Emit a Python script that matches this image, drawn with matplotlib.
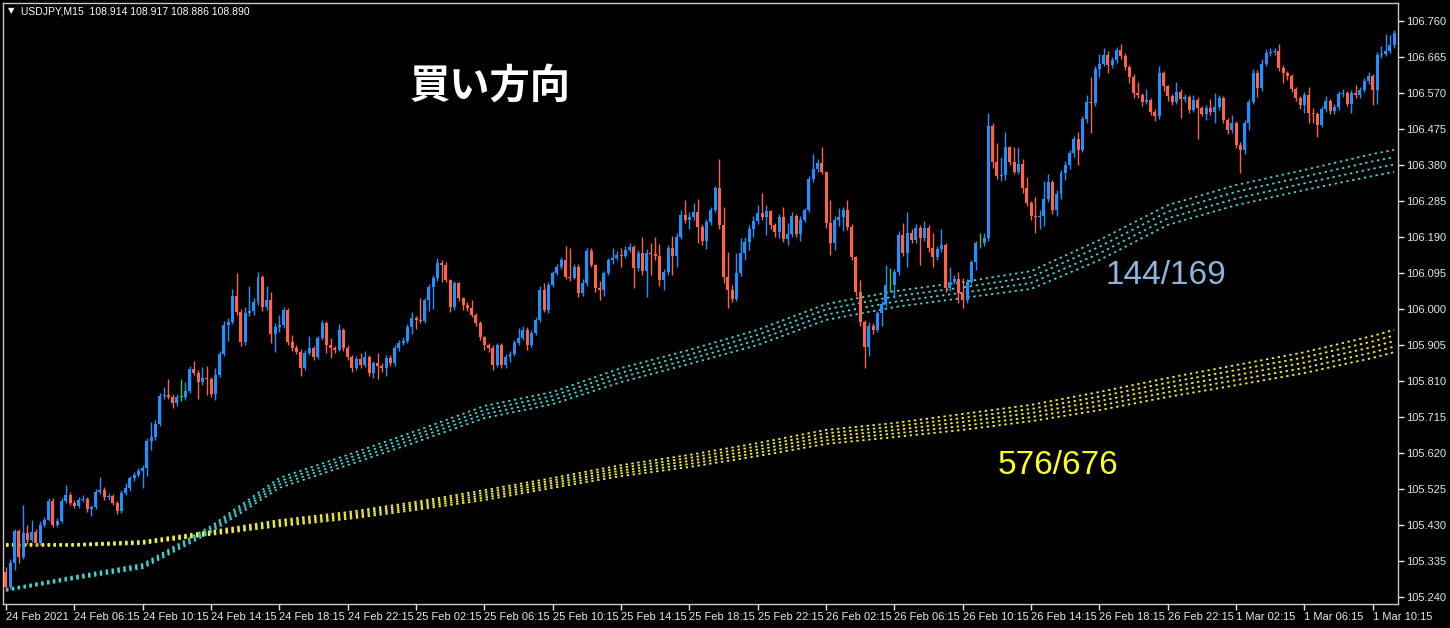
import numpy as np
import matplotlib
matplotlib.use("Agg")
import matplotlib.pyplot as plt

# ---------------- data ----------------
first_open = 105.306
closes = [105.266,105.330,105.414,105.346,105.409,105.390,105.411,105.382,105.430,105.443,
105.493,105.430,105.440,105.493,105.509,105.488,105.480,105.496,105.499,105.472,
105.477,105.517,105.522,105.504,105.506,105.488,105.467,105.514,105.528,105.554,
105.562,105.572,105.580,105.652,105.662,105.696,105.770,105.773,105.768,105.752,
105.768,105.768,105.784,105.842,105.831,105.807,105.818,105.815,105.776,105.826,
105.881,105.958,105.966,106.034,105.992,105.913,105.989,105.995,106.018,106.084,
106.005,106.024,105.934,105.953,105.958,105.997,105.913,105.897,105.887,105.844,
105.884,105.897,105.873,105.923,105.963,105.905,105.897,105.892,105.945,105.897,
105.873,105.844,105.868,105.852,105.873,105.831,105.857,105.850,105.844,105.871,
105.857,105.897,105.910,105.916,105.953,105.976,105.971,105.968,106.024,106.058,
106.082,106.121,106.116,106.076,106.005,106.069,106.029,106.011,106.003,105.984,
105.963,105.926,105.905,105.897,105.852,105.905,105.852,105.873,105.881,105.910,
105.923,105.945,105.905,105.937,105.971,106.050,105.997,106.063,106.095,106.111,
106.129,106.084,106.082,106.111,106.042,106.069,106.153,106.116,106.055,106.050,
106.095,106.129,106.135,106.142,106.140,106.156,106.164,106.108,106.148,106.100,
106.148,106.145,106.140,106.076,106.098,106.161,106.140,106.190,106.248,106.235,
106.243,106.256,106.216,106.179,106.230,106.261,106.319,106.222,106.084,106.050,
106.026,106.095,106.148,106.177,106.211,106.232,106.253,106.243,106.259,106.222,
106.203,106.243,106.185,106.198,106.245,106.198,106.235,106.261,106.343,106.369,
106.385,106.362,106.227,106.174,106.235,106.243,106.261,106.216,106.137,106.045,
105.966,105.900,105.955,105.945,105.989,106.013,106.063,106.063,106.098,106.195,
106.148,106.201,106.182,106.214,106.187,106.214,106.161,106.137,106.158,106.169,
106.055,106.071,106.079,106.042,106.024,106.071,106.124,106.174,106.174,106.187,
106.483,106.388,106.351,106.354,106.427,106.388,106.362,106.383,106.319,106.280,
106.245,106.243,106.245,106.290,106.335,106.261,106.303,106.359,106.380,106.412,
106.449,106.420,106.501,106.546,106.544,106.633,106.647,106.670,106.644,106.657,
106.683,106.668,106.639,106.612,106.570,106.565,106.546,106.552,106.520,106.509,
106.623,106.588,106.562,106.546,106.573,106.554,106.559,106.525,106.552,106.530,
106.515,106.530,106.520,106.533,106.557,106.499,106.472,106.491,106.433,106.420,
106.491,106.546,106.623,106.583,106.647,106.676,106.678,106.681,106.636,106.623,
106.615,106.581,106.557,106.538,106.565,106.517,106.515,106.486,106.528,106.549,
106.522,106.533,106.567,106.570,106.541,106.570,106.565,106.578,106.602,106.615,
106.578,106.670,106.673,106.681,106.697,106.728]

highs = [105.318,105.340,105.419,105.420,105.483,105.430,105.443,105.420,105.440,105.450,
105.500,105.500,105.448,105.500,105.535,105.518,105.495,105.505,105.508,105.503,
105.484,105.524,105.556,105.530,105.514,105.512,105.494,105.522,105.540,105.560,
105.570,105.580,105.588,105.660,105.703,105.706,105.778,105.795,105.815,105.775,
105.775,105.815,105.808,105.850,105.863,105.838,105.847,105.850,105.820,105.845,
105.888,105.968,105.975,106.052,106.094,106.000,106.006,106.061,106.028,106.098,
106.090,106.060,106.044,105.962,105.985,106.005,106.002,105.931,105.905,105.895,
105.892,105.929,105.903,105.930,105.970,105.968,105.923,105.902,105.960,105.950,
105.905,105.878,105.875,105.884,105.890,105.878,105.864,105.884,105.858,105.878,
105.879,105.905,105.918,105.925,105.960,105.993,105.982,106.028,106.030,106.065,
106.090,106.134,106.128,106.124,106.080,106.075,106.072,106.032,106.018,106.024,
105.990,105.968,105.930,105.910,105.905,105.910,105.910,105.880,105.890,105.918,
105.950,105.955,105.952,105.945,105.978,106.060,106.069,106.072,106.100,106.120,
106.138,106.166,106.160,106.120,106.118,106.078,106.160,106.160,106.120,106.075,
106.100,106.135,106.160,106.152,106.160,106.165,106.175,106.170,106.155,106.191,
106.158,106.173,106.189,106.172,106.105,106.170,106.193,106.200,106.262,106.288,
106.255,106.281,106.290,106.225,106.238,106.270,106.325,106.395,106.270,106.150,
106.063,106.147,106.187,106.190,106.222,106.245,106.274,106.305,106.275,106.262,
106.226,106.250,106.270,106.226,106.255,106.250,106.245,106.266,106.350,106.409,
106.395,106.427,106.365,106.288,106.245,106.266,106.270,106.288,106.225,106.140,
106.076,105.972,105.965,105.962,105.995,106.020,106.115,106.108,106.105,106.205,
106.228,106.257,106.210,106.225,106.222,106.232,106.222,106.200,106.165,106.210,
106.175,106.112,106.090,106.098,106.082,106.080,106.130,106.180,106.200,106.200,
106.516,106.490,106.437,106.400,106.468,106.430,106.428,106.427,106.396,106.349,
106.285,106.295,106.261,106.338,106.355,106.340,106.315,106.367,106.390,106.420,
106.456,106.468,106.510,106.565,106.613,106.640,106.673,106.690,106.680,106.665,
106.692,106.700,106.675,106.645,106.620,106.600,106.570,106.580,106.556,106.528,
106.641,106.628,106.592,106.568,106.598,106.580,106.568,106.565,106.565,106.560,
106.535,106.538,106.555,106.569,106.566,106.562,106.505,106.512,106.495,106.440,
106.500,106.555,106.633,106.630,106.660,106.685,106.688,106.690,106.699,106.645,
106.628,106.620,106.585,106.562,106.572,106.587,106.530,106.520,106.535,106.563,
106.555,106.540,106.575,106.580,106.575,106.578,106.590,106.585,106.610,106.625,
106.620,106.678,106.695,106.725,106.723,106.735]

lows = [105.255,105.262,105.311,105.330,105.340,105.380,105.385,105.375,105.378,105.425,
105.440,105.425,105.425,105.435,105.488,105.482,105.475,105.474,105.490,105.465,
105.455,105.472,105.512,105.496,105.497,105.482,105.460,105.462,105.508,105.520,
105.545,105.556,105.528,105.560,105.628,105.655,105.690,105.762,105.762,105.738,
105.745,105.758,105.760,105.778,105.825,105.762,105.800,105.772,105.768,105.760,
105.820,105.875,105.915,105.960,105.985,105.903,105.905,105.982,105.985,106.010,
105.995,105.998,105.910,105.887,105.940,105.950,105.905,105.890,105.880,105.823,
105.838,105.878,105.866,105.868,105.918,105.885,105.871,105.885,105.888,105.890,
105.865,105.835,105.838,105.845,105.846,105.824,105.818,105.815,105.835,105.822,
105.850,105.850,105.890,105.905,105.910,105.935,105.947,105.962,105.963,105.995,
106.000,106.075,106.070,106.070,105.993,105.998,106.020,105.997,105.995,105.978,
105.955,105.918,105.892,105.886,105.839,105.846,105.845,105.843,105.860,105.875,
105.905,105.918,105.892,105.900,105.932,105.965,105.993,105.990,106.059,106.090,
106.105,106.078,106.075,106.078,106.032,106.035,106.062,106.110,106.046,106.025,
106.035,106.090,106.120,106.130,106.112,106.135,106.150,106.055,106.100,106.090,
106.032,106.090,106.130,106.060,106.050,106.090,106.090,106.110,106.185,106.228,
106.210,106.235,106.175,106.170,106.158,106.222,106.255,106.212,106.068,106.002,
106.018,106.020,106.088,106.130,106.155,106.190,106.225,106.235,106.195,106.212,
106.190,106.187,106.178,106.170,106.190,106.190,106.180,106.230,106.255,106.335,
106.362,106.355,106.215,106.142,106.155,106.220,106.205,106.208,106.130,106.035,
105.955,105.843,105.875,105.935,105.938,105.955,106.008,106.046,106.030,106.090,
106.140,106.112,106.175,106.175,106.115,106.180,106.150,106.112,106.130,106.150,
106.045,106.048,106.065,106.016,106.002,106.015,106.065,106.103,106.160,106.165,
106.180,106.372,106.342,106.338,106.340,106.380,106.355,106.355,106.305,106.272,
106.235,106.201,106.210,106.218,106.282,106.252,106.245,106.290,106.340,106.370,
106.400,106.380,106.414,106.490,106.464,106.535,106.611,106.640,106.622,106.635,
106.650,106.660,106.630,106.597,106.557,106.558,106.536,106.540,106.512,106.497,
106.502,106.575,106.548,106.538,106.540,106.503,106.545,106.518,106.520,106.449,
106.508,106.499,106.512,106.490,106.525,106.490,106.462,106.465,106.425,106.360,
106.410,106.472,106.540,106.560,106.575,106.640,106.668,106.670,106.628,106.596,
106.605,106.573,106.550,106.528,106.518,106.490,106.490,106.455,106.480,106.520,
106.515,106.515,106.526,106.560,106.535,106.516,106.558,106.558,106.572,106.595,
106.538,106.540,106.662,106.668,106.675,106.690]

# moving-average bands, read at every 16th bar (and the last bar)
ma_bars = [0,16,32,48,64,80,96,112,128,144,160,176,192,208,224,240,256,272,288,304,320,325]
cyan_top = [105.261,105.295,105.327,105.427,105.554,105.615,105.678,105.744,105.781,105.844,
            105.892,105.945,106.013,106.047,106.071,106.100,106.182,106.274,106.327,106.367,106.409,106.420]
cyan_bot = [105.256,105.287,105.316,105.411,105.528,105.588,105.649,105.712,105.749,105.807,
            105.855,105.905,105.971,106.005,106.029,106.053,106.129,106.222,106.274,106.314,106.351,106.362]
yel_top = [105.380,105.380,105.388,105.414,105.443,105.464,105.491,105.522,105.554,105.588,
           105.615,105.646,105.681,105.699,105.723,105.747,105.781,105.818,105.852,105.886,105.929,105.945]
yel_bot = [105.375,105.375,105.380,105.404,105.427,105.446,105.470,105.496,105.528,105.559,
           105.583,105.612,105.644,105.662,105.681,105.704,105.733,105.768,105.799,105.831,105.871,105.886]

x_tick_bars = list(range(0, 321, 16))
x_tick_labels = ["24 Feb 2021","24 Feb 06:15","24 Feb 10:15","24 Feb 14:15","24 Feb 18:15",
                 "24 Feb 22:15","25 Feb 02:15","25 Feb 06:15","25 Feb 10:15","25 Feb 14:15",
                 "25 Feb 18:15","25 Feb 22:15","26 Feb 02:15","26 Feb 06:15","26 Feb 10:15",
                 "26 Feb 14:15","26 Feb 18:15","26 Feb 22:15","1 Mar 02:15","1 Mar 06:15","1 Mar 10:15"]
y_ticks = [105.240,105.335,105.430,105.525,105.620,105.715,105.810,105.905,106.000,
           106.095,106.190,106.285,106.380,106.475,106.570,106.665,106.760]
header = "USDJPY,M15  108.914 108.917 108.886 108.890"

# ---------------- figure ----------------
W, H = 1450, 628
fig = plt.figure(figsize=(W/100, H/100), dpi=100, facecolor="black")
ax = fig.add_axes([3/W, 1-604/H, (1398-3)/W, (604-3)/H], facecolor="black")

c = np.array(closes)
o = np.array([first_open] + closes[:-1])
hi = np.maximum(np.array(highs), np.maximum(o, c))
lo = np.minimum(np.array(lows), np.minimum(o, c))
n = len(c)
x = np.arange(n)

BULL, BEAR, DOJI = "#1e90ff", "#ff6347", "#32cd32"
cols = np.where(np.isclose(c, o), DOJI, np.where(c > o, BULL, BEAR))

# MA bands (dotted)
def band(top, bot, color, nlines):
    top = np.array(top); bot = np.array(bot)
    for k in range(nlines):
        v = bot + (top - bot) * k / (nlines - 1)
        ax.plot(ma_bars, v, color=color, lw=1.3, linestyle=(0, (1.3, 2.0)), zorder=2)

band(yel_top, yel_bot, "#f0f03c", 5)
band(cyan_top, cyan_bot, "#46d2d2", 4)

ax.vlines(x, lo, hi, colors=cols, linewidth=1, zorder=3)
ax.bar(x, np.maximum(np.abs(c - o), 0.0013), bottom=np.minimum(o, c), width=0.7,
       color=cols, linewidth=0, zorder=4)

ax.set_xlim(-0.7, 325.9)
ax.set_ylim(105.2215, 106.8075)

for s in ax.spines.values():
    s.set_color("#c8c8c8")
    s.set_linewidth(1)

ax.yaxis.tick_right()
ax.set_yticks(y_ticks)
ax.set_yticklabels([f"{v:.3f}" for v in y_ticks])
ax.set_xticks(x_tick_bars)
ax.set_xticklabels(x_tick_labels)
ax.tick_params(axis="both", colors="#e6e6e6", length=4, width=1, direction="out",
               labelsize=8, pad=2)
for lab in ax.get_xticklabels():
    lab.set_horizontalalignment("left")
    lab.set_fontfamily(["Liberation Sans", "DejaVu Sans"])
for lab in ax.get_yticklabels():
    lab.set_fontfamily(["Liberation Sans", "DejaVu Sans"])

# texts
fig.text(8/W, 1-11/H, "\u25bc", color="white", fontsize=6, va="center", ha="left",
         family=["DejaVu Sans"])
fig.text(21/W, 1-11/H, header, color="white", fontsize=7.5, va="center", ha="left",
         family=["Liberation Sans", "DejaVu Sans"])
fig.text(490/W, 1-86/H, "買い方向", color="white", fontsize=29, fontweight="bold",
         va="center", ha="center", family=["Noto Sans CJK JP", "DejaVu Sans"])
fig.text(1166/W, 1-275/H, "144/169", color="#8cb4dc", fontsize=24, va="center", ha="center",
         family=["Liberation Sans", "DejaVu Sans"])
fig.text(1058/W, 1-466/H, "576/676", color="#ffff1e", fontsize=24, va="center", ha="center",
         family=["Liberation Sans", "DejaVu Sans"])

fig.savefig("out.png", dpi=100, facecolor="black")
